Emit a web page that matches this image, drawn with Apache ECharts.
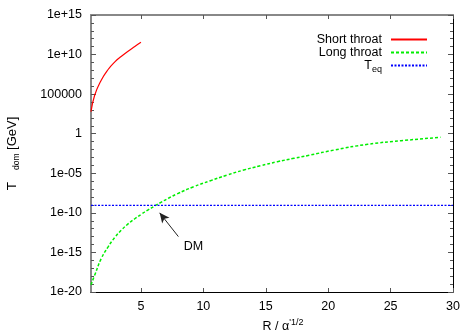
<!DOCTYPE html>
<html>
<head>
<meta charset="utf-8">
<script src="https://cdn.jsdelivr.net/npm/echarts@6/dist/echarts.min.js"></script>
<style>
  html, body { margin: 0; padding: 0; background: #fff; }
  #main { width: 475px; height: 332px; }
</style>
</head>
<body>
<div id="main"></div>
<script>
// values
const seriesNames = ['Short throat', 'Long throat', 'T_eq'];

const shortR = [1.0, 1.3, 1.83, 2.37, 2.91, 3.44, 3.97, 4.51, 5.0];
const shortT = [6e2, 7.8e4, 6.2e6, 1.3e8, 1.2e9, 6.2e9, 2.7e10, 1.05e11, 3.5e11];

const longR = [1.0, 1.3, 1.83, 2.37, 2.91, 3.44, 3.97, 4.51, 5.04, 5.58, 6.12, 6.6, 7.2, 7.89, 9.22,
  10.57, 11.91, 13.24, 14.58, 15.93, 17.26, 18.47, 20.48, 23.16, 25.84, 29.0];
const longT = [8e-20, 1.4e-18, 1.8e-16, 5e-15, 7.9e-14, 6.8e-13, 4e-12, 1.8e-11, 6.8e-11,
  2.4e-10, 7.6e-10, 2.1e-9, 7e-9, 2.5e-8, 2e-7, 1.15e-6, 6e-6, 2.6e-5, 9e-5, 2.9e-4,
  7.8e-4, 1.86e-3, 8.7e-3, 4.6e-2, 0.13, 0.35];

const eqR = [1, 30];
const eqT = [9e-10, 9e-10];

const xTicks = [5, 10, 15, 20, 25, 30];
const yTickValues = [1e-20, 1e-15, 1e-10, 1e-5, 1, 1e5, 1e10, 1e15];
const yTickLabels = ['1e-20', '1e-15', '1e-10', '1e-05', '1', '100000', '1e+10', '1e+15'];

// arrow annotation "DM"
const dmFrom = [8.0, 1e-13];
const dmTo = [6.5, 1e-10];
const dmLabelAt = [9.2, 5e-15];

const FONT = 'Liberation Sans';

function yLabel(v) {
  let i = yTickValues.findIndex(t => Math.abs(Math.log10(t) - Math.log10(v)) < 0.01);
  return i >= 0 ? yTickLabels[i] : '';
}

function pairs(xs, ys) {
  return xs.map((x, i) => [x, ys[i]]);
}

function drawChart() {
  let myChart = echarts.init(document.getElementById('main'));
  let gridBox = { left: 91, right: 22, top: 15, bottom: 40, outerBoundsMode: 'none', containLabel: false };

  myChart.setOption({
    animation: false,
    textStyle: { fontFamily: FONT },
    grid: [
      Object.assign({}, gridBox),
      Object.assign({}, gridBox)
    ],
    legend: {
      orient: 'vertical',
      align: 'right',
      right: 42,
      top: 28,
      itemWidth: 36,
      itemHeight: 10,
      itemGap: 0,
      data: seriesNames,
      itemStyle: { opacity: 0 },
      textStyle: {
        fontFamily: FONT,
        fontSize: 12.5,
        lineHeight: 13,
        color: '#000',
        padding: [0, 4, 0, 0],
        rich: {
          m: { fontFamily: FONT, fontSize: 12.5, color: '#000' },
          s: { fontFamily: FONT, fontSize: 9, color: '#000', padding: [8, 0, 0, 0] }
        }
      },
      formatter: function (name) {
        if (name === 'T_eq') return '{m|T}{s|eq}';
        return name;
      }
    },
    xAxis: [
      {
        type: 'value', gridIndex: 0, position: 'bottom', min: 1, max: 30,
        name: '{m|R / α}{p|\'1/2}',
        nameLocation: 'middle',
        nameGap: 17,
        nameTextStyle: {
          padding: [0, 0, 0, 22],
          rich: {
            m: { fontFamily: FONT, fontSize: 12.5, color: '#000' },
            p: { fontFamily: FONT, fontSize: 9, color: '#000', padding: [0, 0, 8, 0] }
          }
        },
        axisLine: { show: true, onZero: false, lineStyle: { color: '#000', width: 1 } },
        axisTick: { inside: true, length: 4, customValues: xTicks, lineStyle: { color: '#555' } },
        axisLabel: { customValues: xTicks, fontSize: 12.5, color: '#000', margin: 8, fontFamily: FONT },
        splitLine: { show: false }
      },
      {
        type: 'value', gridIndex: 0, position: 'top', min: 1, max: 30,
        axisLine: { show: true, onZero: false, lineStyle: { color: '#888', width: 2 } },
        axisTick: { inside: true, length: 4, customValues: xTicks, lineStyle: { color: '#555' } },
        axisLabel: { show: false },
        splitLine: { show: false }
      },
      {
        type: 'value', gridIndex: 1, min: 1, max: 30, show: false
      }
    ],
    yAxis: [
      {
        type: 'log', logBase: 10, gridIndex: 0, position: 'left',
        min: 1e-20, max: 1e15, interval: 5,
        name: '{t|T}{s|dom}{m| [GeV]}',
        nameLocation: 'middle',
        nameRotate: 90,
        nameGap: 70,
        nameTextStyle: {
          rich: {
            t: { fontFamily: FONT, fontSize: 13.5, color: '#000', padding: [0, 12, 0, 0] },
            m: { fontFamily: FONT, fontSize: 13, color: '#000' },
            s: { fontFamily: FONT, fontSize: 8.5, color: '#000', padding: [8, 0, 0, 0] }
          }
        },
        axisLine: { show: true, onZero: false, lineStyle: { color: '#888', width: 2 } },
        axisTick: { inside: true, length: 5, lineStyle: { color: '#555' } },
        axisLabel: { formatter: yLabel, fontSize: 12.5, color: '#000', margin: 9, fontFamily: FONT },
        splitLine: { show: false }
      },
      {
        type: 'log', logBase: 10, gridIndex: 0, position: 'right',
        min: 1e-20, max: 1e15, interval: 5,
        axisLine: { show: true, onZero: false, lineStyle: { color: '#000', width: 1 } },
        axisTick: { inside: true, length: 5, lineStyle: { color: '#555' } },
        axisLabel: { show: false },
        splitLine: { show: false }
      },
      {
        // decade ticks, left
        type: 'log', logBase: 10, gridIndex: 1, position: 'left',
        min: 1e-20, max: 1e15, interval: 1,
        axisLine: { show: false },
        axisTick: { inside: true, length: 3, lineStyle: { color: '#555' } },
        axisLabel: { show: false },
        splitLine: { show: false }
      },
      {
        // decade ticks, right
        type: 'log', logBase: 10, gridIndex: 1, position: 'right',
        min: 1e-20, max: 1e15, interval: 1,
        axisLine: { show: false },
        axisTick: { inside: true, length: 3, lineStyle: { color: '#555' } },
        axisLabel: { show: false },
        splitLine: { show: false }
      }
    ],
    series: [
      {
        name: seriesNames[0], type: 'line', xAxisIndex: 0, yAxisIndex: 0,
        data: pairs(shortR, shortT),
        smooth: 0.5, symbol: 'none',
        lineStyle: { color: '#ff0000', width: 1.2 },
        itemStyle: { color: '#ff0000' }
      },
      {
        name: seriesNames[1], type: 'line', xAxisIndex: 0, yAxisIndex: 0,
        data: pairs(longR, longT),
        smooth: 0.5, symbol: 'none',
        lineStyle: { color: '#00ee00', width: 1.5, type: [3, 2] },
        itemStyle: { color: '#00ee00' }
      },
      {
        name: seriesNames[2], type: 'line', xAxisIndex: 0, yAxisIndex: 0,
        data: pairs(eqR, eqT),
        symbol: 'none',
        lineStyle: { color: '#0000ff', width: 1.2, type: [2, 1.5] },
        itemStyle: { color: '#0000ff' },
        markLine: {
          silent: true,
          symbol: ['none', 'arrow'],
          symbolSize: [7, 10],
          label: { show: false },
          lineStyle: { color: '#222', width: 1, type: 'solid' },
          data: [[{ coord: dmFrom }, { coord: dmTo }]]
        },
        markPoint: {
          silent: true,
          symbol: 'circle',
          symbolSize: 0,
          label: { show: true, formatter: 'DM', color: '#000', fontSize: 12.5, fontFamily: FONT },
          data: [{ coord: dmLabelAt }]
        }
      }
    ]
  });
}

drawChart();
</script>
</body>
</html>
